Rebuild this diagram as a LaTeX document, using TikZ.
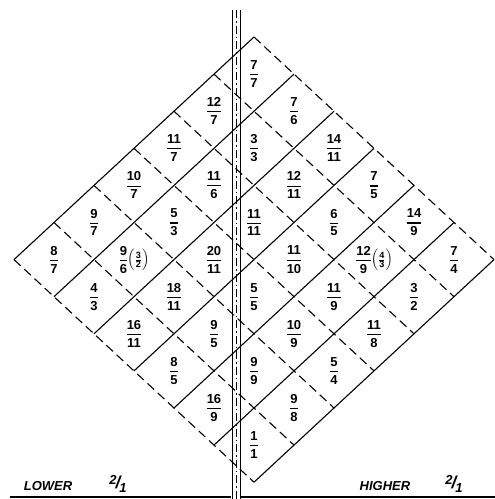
\documentclass[tikz,border=0pt]{standalone}
\usepackage{amsmath}
\usepackage{fontspec}
\setmainfont{Liberation Sans}
\newcommand{\frc}[2]{$\genfrac{}{}{1.1pt}{0}{\text{#1}}{\text{#2}}$}
\newcommand{\frcx}[4]{$\genfrac{}{}{1.1pt}{0}{\text{#1}}{\text{#2}}\kern-1pt\Bigl(\genfrac{}{}{0.7pt}{1}{\text{#3}}{\text{#4}}\Bigr)$}
\newcommand{\ratio}[2]{\raisebox{4pt}{#1}\kern-1pt{\LARGE/}\kern-1pt\raisebox{-4pt}{#2}}
\begin{document}
\begin{tikzpicture}[x=1pt, y=-1pt,
    cell/.style={font=\fontsize{13}{15}\selectfont\bfseries, inner sep=0pt},
    rim/.style={line width=1.1pt},
    rimdash/.style={line width=1.1pt, dash pattern=on 9pt off 5pt},
    axisline/.style={line width=0.9pt},
    centreline/.style={line width=0.8pt, dash pattern=on 8pt off 3pt on 1.5pt off 3pt},
    tag/.style={font=\fontsize{13}{15}\selectfont\bfseries\itshape}]
  \useasboundingbox (0,0) rectangle (495,499);
  % centre line
  \draw[axisline] (232,10) -- (232,499);
  \draw[axisline] (240,10) -- (240,499);
  \draw[centreline] (236,10) -- (236,499);
  % base line
  \draw[line width=2.5pt] (10,497) -- (231,497);
  \draw[line width=2.5pt] (241,497) -- (495,497);
  % grid of ratios
  \begin{scope}[shift={(254,37)}, x={(40pt,-37.1pt)}, y={(-40pt,-37.1pt)}]
    \foreach \k in {0,...,6} {
      \draw[rim] (\k,0) -- (\k,6);
      \draw[rimdash] (0,\k) -- (6,\k);
    }
    \foreach \t [count=\j from 0] in {\frc{7}{7}, \frc{7}{6}, \frc{14}{11}, \frc{7}{5}, \frc{14}{9}, \frc{7}{4}}
      \node[cell] (c0\j) at (\j+0.5,0.5) {\t};
    \foreach \t [count=\j from 0] in {\frc{12}{7}, \frc{3}{3}, \frc{12}{11}, \frc{6}{5}, \frcx{12}{9}{4}{3}, \frc{3}{2}}
      \node[cell] (c1\j) at (\j+0.5,1.5) {\t};
    \foreach \t [count=\j from 0] in {\frc{11}{7}, \frc{11}{6}, \frc{11}{11}, \frc{11}{10}, \frc{11}{9}, \frc{11}{8}}
      \node[cell] (c2\j) at (\j+0.5,2.5) {\t};
    \foreach \t [count=\j from 0] in {\frc{10}{7}, \frc{5}{3}, \frc{20}{11}, \frc{5}{5}, \frc{10}{9}, \frc{5}{4}}
      \node[cell] (c3\j) at (\j+0.5,3.5) {\t};
    \foreach \t [count=\j from 0] in {\frc{9}{7}, \frcx{9}{6}{3}{2}, \frc{18}{11}, \frc{9}{5}, \frc{9}{9}, \frc{9}{8}}
      \node[cell] (c4\j) at (\j+0.5,4.5) {\t};
    \foreach \t [count=\j from 0] in {\frc{8}{7}, \frc{4}{3}, \frc{16}{11}, \frc{8}{5}, \frc{16}{9}, \frc{1}{1}}
      \node[cell] (c5\j) at (\j+0.5,5.5) {\t};
  \end{scope}
  % labels
  \node[tag] (lower) at (48,486) {LOWER};
  \node[tag] (lowerratio) at (118,484) {\ratio{2}{1}};
  \node[tag] (higher) at (385,486) {HIGHER};
  \node[tag] (higherratio) at (454,484) {\ratio{2}{1}};
\end{tikzpicture}
\end{document}
